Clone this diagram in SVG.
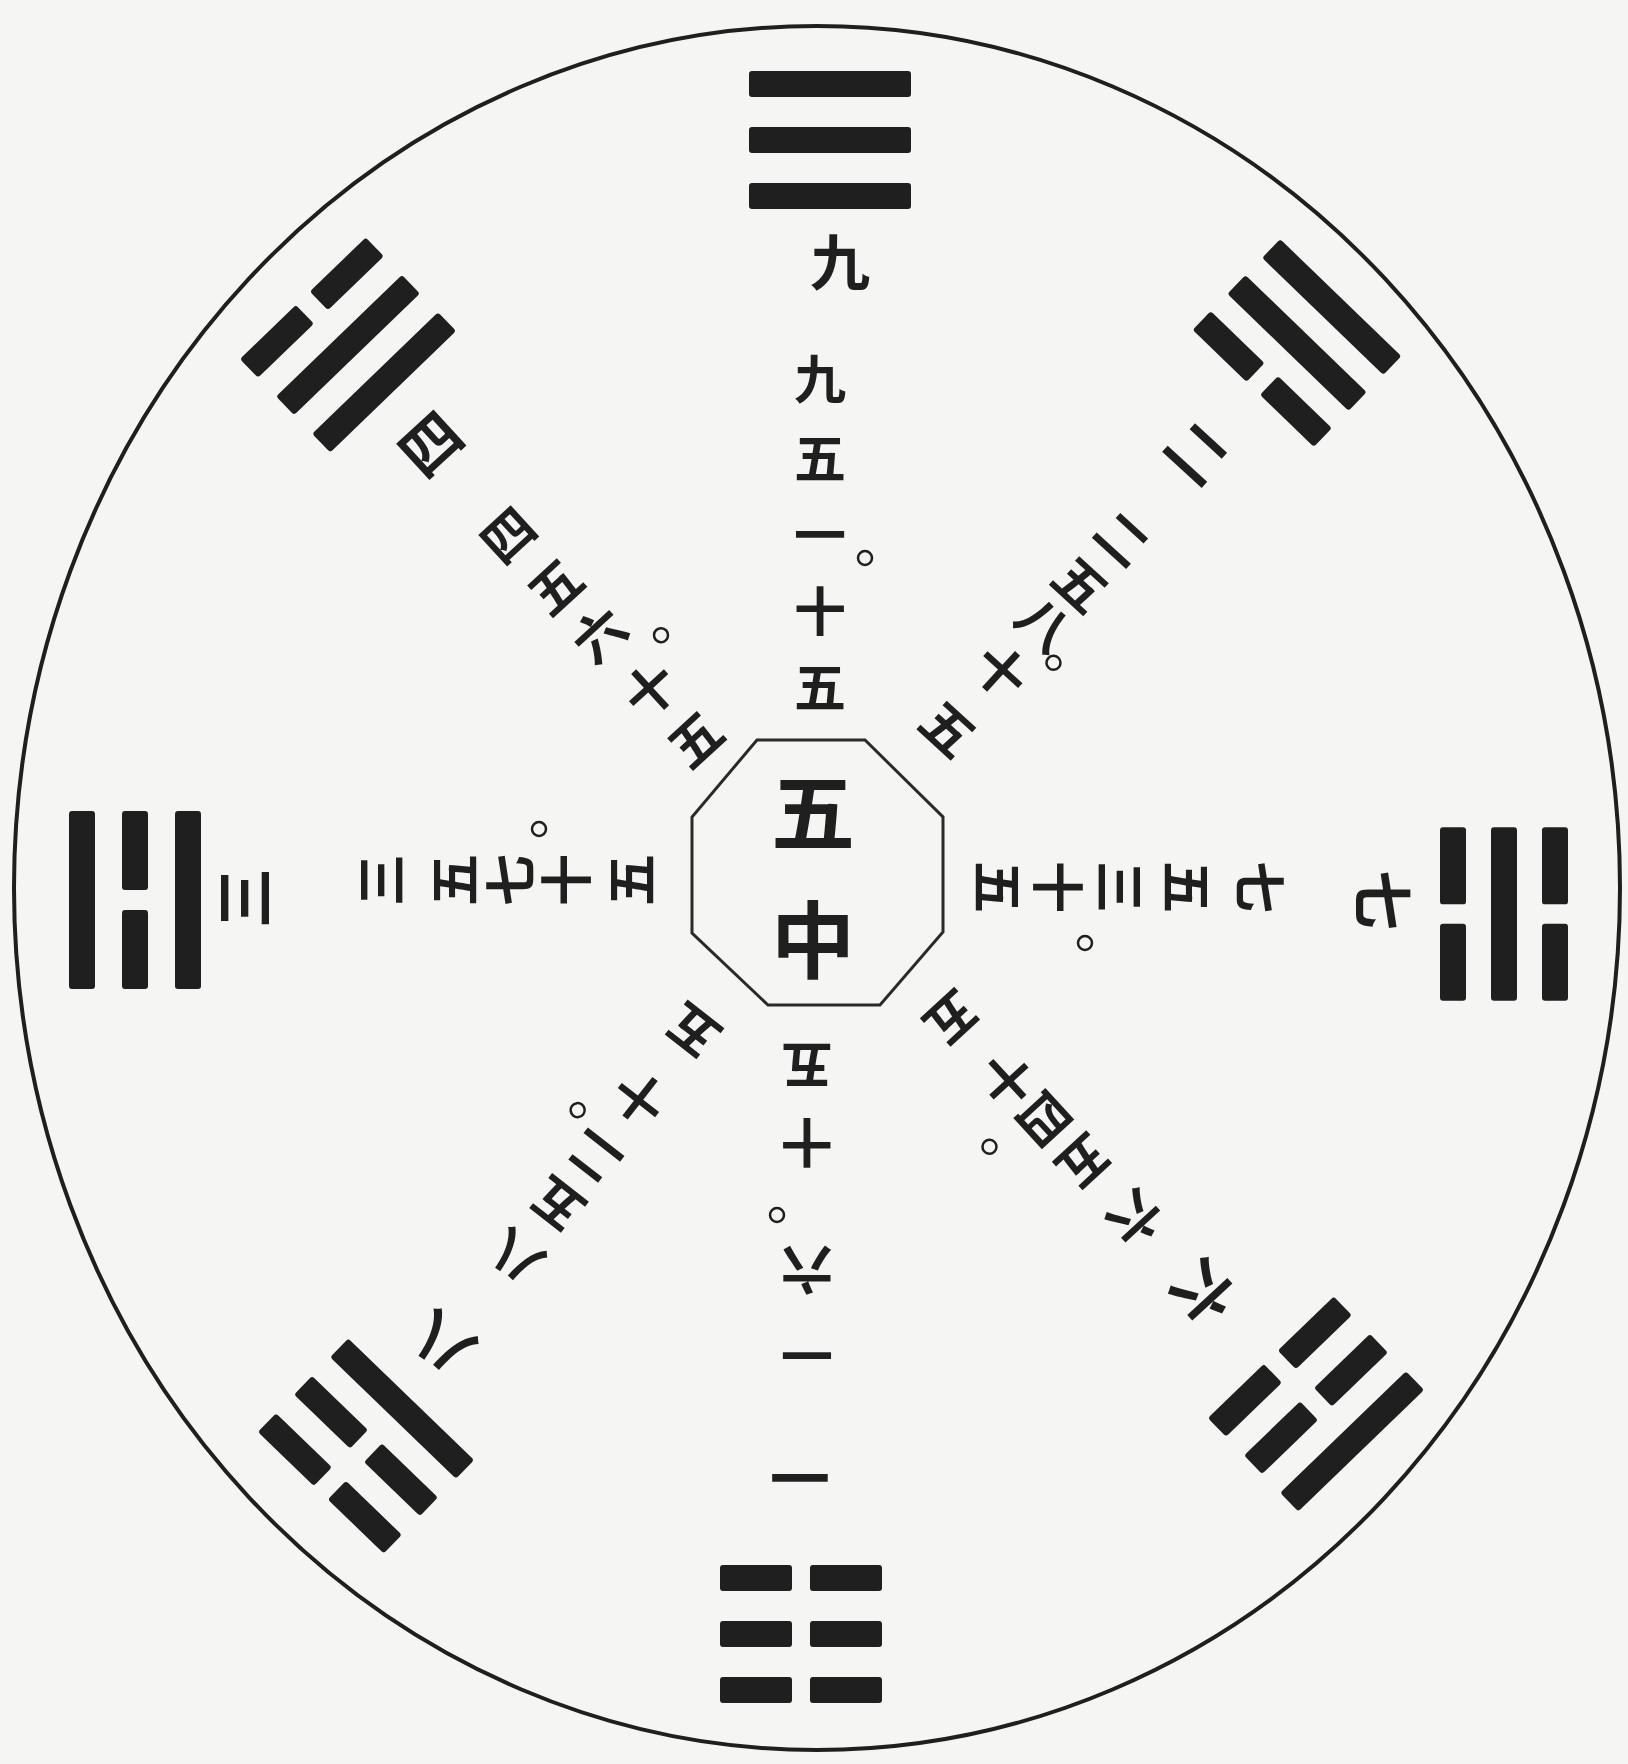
<svg xmlns="http://www.w3.org/2000/svg" width="1628" height="1764" viewBox="0 0 1628 1764">
<style>
.ink{fill:#1f1f1f}
.t{font-family:"Noto Sans CJK SC","Noto Sans CJK JP",sans-serif;font-size:52px;font-weight:700;fill:#1f1f1f;text-anchor:middle;dominant-baseline:central}
.lb{font-size:60px}
.ctr{font-size:84px}
.line{fill:none;stroke:#1f1f1f;stroke-width:4}
.oct{fill:none;stroke:#2a2a2a;stroke-width:3}
.dot{fill:none;stroke:#1f1f1f;stroke-width:2.5}
</style>
<defs>
<rect id="yang" class="ink" x="-81" y="-13" width="162" height="26" rx="3"/>
<g id="yin" class="ink"><rect x="-81" y="-13" width="72" height="26" rx="3"/><rect x="9" y="-13" width="72" height="26" rx="3"/></g>
</defs>
<rect x="0" y="0" width="1628" height="1764" fill="#f5f5f4"/>
<g id="frame"><ellipse class="line" cx="817" cy="888" rx="803" ry="862"/></g>
<g id="center">
<polygon class="oct" points="757,740 865,740 943,817 943,932 880,1005 768,1005 692,933 692,817"/>
<text class="t ctr" x="813" y="807">五</text>
<text class="t ctr" x="813" y="935">中</text>
</g>
<g id="north">
<g transform="translate(830,140) rotate(0)"><use href="#yang" y="-56"/><use href="#yang"/><use href="#yang" y="56"/></g>
<text class="t lb" x="840" y="258">九</text>
<g transform="translate(820,872) rotate(0)">
<text class="t" x="0" y="-496">九</text><text class="t" x="0" y="-417">五</text><text class="t" x="0" y="-340">一</text><circle class="dot" cx="45" cy="-314" r="7"/><text class="t" x="0" y="-264">十</text><text class="t" x="0" y="-188">五</text>
</g>
</g>
<g id="northeast">
<g transform="translate(1297,343) rotate(44) scale(1.04,1)"><use href="#yang" y="-50"/><use href="#yang"/><use href="#yin" y="50"/></g>
<text class="t lb" transform="translate(1200,450) rotate(42.5)">二</text>
<g transform="translate(817,872) rotate(42.5)">
<text class="t" x="0" y="-455">二</text><text class="t" x="0" y="-393">五</text><text class="t" x="0" y="-339">八</text><circle class="dot" cx="33" cy="-314" r="7"/><text class="t" x="0" y="-275">十</text><text class="t" x="0" y="-197">五</text>
</g>
</g>
<g id="northwest">
<g transform="translate(348,345) rotate(-44) scale(1.08,1)"><use href="#yin" y="-52"/><use href="#yang"/><use href="#yang" y="52"/></g>
<text class="t lb" transform="translate(428,441) rotate(-42.5)">四</text>
<g transform="translate(817,872) rotate(-42.5)">
<text class="t" x="0" y="-460">四</text><text class="t" x="0" y="-390">五</text><text class="t" x="0" y="-325">六</text><circle class="dot" cx="45" cy="-280" r="7"/><text class="t" x="0" y="-250">十</text><text class="t" x="0" y="-183">五</text>
</g>
</g>
<g id="west">
<g transform="translate(135,900) rotate(-90) scale(1.1,1)"><use href="#yang" y="-53"/><use href="#yin"/><use href="#yang" y="53"/></g>
<text class="t lb" transform="translate(240,898) rotate(-90)">三</text>
<g transform="translate(817,880) rotate(-90)">
<text class="t" x="0" y="-439">三</text><text class="t" x="0" y="-366">五</text><text class="t" x="0" y="-310">七</text><circle class="dot" cx="51" cy="-278" r="7"/><text class="t" x="0" y="-254">十</text><text class="t" x="0" y="-189">五</text>
</g>
</g>
<g id="east">
<g transform="translate(1504,914) rotate(90) scale(1.07,1)"><use href="#yin" y="-51"/><use href="#yang"/><use href="#yin" y="51"/></g>
<text class="t lb" transform="translate(1386,900) rotate(90)">七</text>
<g transform="translate(817,887) rotate(90)">
<text class="t" x="0" y="-445">七</text><text class="t" x="0" y="-372">五</text><text class="t" x="0" y="-305">三</text><circle class="dot" cx="56" cy="-268" r="7"/><text class="t" x="0" y="-243">十</text><text class="t" x="0" y="-183">五</text>
</g>
</g>
<g id="south">
<g transform="translate(801,1634) rotate(180)"><use href="#yin" y="-56"/><use href="#yin"/><use href="#yin" y="56"/></g>
<text class="t lb" transform="translate(800,1480) rotate(180)">一</text>
<g transform="translate(807,872) rotate(180)">
<text class="t" x="0" y="-485">一</text><text class="t" x="0" y="-400">六</text><circle class="dot" cx="30" cy="-343" r="7"/><text class="t" x="0" y="-273">十</text><text class="t" x="0" y="-196">五</text>
</g>
</g>
<g id="southeast">
<g transform="translate(1316,1404) rotate(136) scale(1.08,1)"><use href="#yang" y="-52"/><use href="#yin"/><use href="#yin" y="52"/></g>
<text class="t lb" transform="translate(1206,1295) rotate(137.4)">六</text>
<g transform="translate(817,872) rotate(137.4)">
<text class="t" x="0" y="-473">六</text><text class="t" x="0" y="-397">五</text><text class="t" x="0" y="-339">四</text><circle class="dot" cx="59" cy="-319" r="7"/><text class="t" x="0" y="-284">十</text><text class="t" x="0" y="-202">五</text>
</g>
</g>
<g id="southwest">
<g transform="translate(366,1446) rotate(224) scale(1.08,1)"><use href="#yin" y="-52"/><use href="#yin"/><use href="#yang" y="52"/></g>
<text class="t lb" transform="translate(440,1347) rotate(218)">八</text>
<g transform="translate(817,872) rotate(218)">
<text class="t" x="0" y="-492">八</text><text class="t" x="0" y="-425">五</text><text class="t" x="0" y="-365">二</text><circle class="dot" cx="42" cy="-335" r="7"/><text class="t" x="0" y="-290">十</text><text class="t" x="0" y="-205">五</text>
</g>
</g>
</svg>
